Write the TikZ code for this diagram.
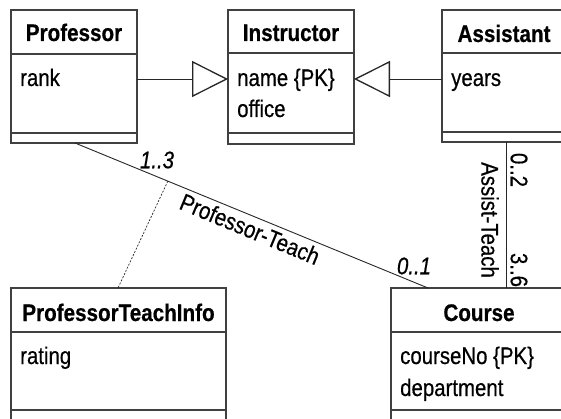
\documentclass[tikz,border=0pt]{standalone}
\usepackage{fontspec}
\setmainfont[FakeStretch=0.85, FakeBold=0.5, BoldFeatures={FakeStretch=0.86}, BoldItalicFeatures={FakeStretch=0.86}]{Liberation Sans}
\usetikzlibrary{arrows.meta,calc}

\begin{document}
\begin{tikzpicture}[x=1pt,y=-1pt,
  font=\fontsize{24}{31}\selectfont,
  umlbox/.style={draw=black!75, line width=1.4pt, inner sep=0pt, outer sep=0pt},
  divider/.style={draw=black!75, line width=1.4pt},
  head/.style={font=\fontsize{24}{31}\selectfont\bfseries, anchor=base, inner sep=0pt},
  attr/.style={anchor=base west, inner sep=0pt},
  link/.style={draw=black!85, line width=0.9pt},
  gen/.style={link, -{Triangle[open, length=36pt, width=36pt, line width=1.3pt]}},
  mult/.style={font=\fontsize{24}{31}\selectfont\itshape, inner sep=0pt},
  assoclabel/.style={inner sep=0pt}]

\useasboundingbox (0,0) rectangle (561,419);
\clip (0,0) rectangle (561,419);

% --- class boxes ---
\node[umlbox, minimum width=126pt, minimum height=133pt] (prof)  at (74,76.5) {};
\node[umlbox, minimum width=126pt, minimum height=134pt] (instr) at (291,77) {};
\node[umlbox, minimum width=124pt, minimum height=132pt] (asst)  at (504,76) {};
\node[umlbox, minimum width=215pt, minimum height=152pt] (pti)   at (118.5,364) {};
\node[umlbox, minimum width=176pt, minimum height=152pt] (course) at (479,364) {};

% compartment dividers
\draw[divider] (11,54) -- (137,54);   \draw[divider] (11,133) -- (137,133);
\draw[divider] (228,53) -- (354,53);  \draw[divider] (228,133) -- (354,133);
\draw[divider] (442,53) -- (566,53);  \draw[divider] (442,132) -- (566,132);
\draw[divider] (11,332) -- (226,332); \draw[divider] (11,410) -- (226,410);
\draw[divider] (391,332) -- (567,332);\draw[divider] (391,410) -- (567,410);

% class names
\node[head] at (74,41)    {Professor};
\node[head] at (291,41)   {Instructor};
\node[head] at (504,42)   {Assistant};
\node[head] at (118.5,321) {ProfessorTeachInfo};
\node[head] at (479,321)  {Course};

% attributes
\node[attr] at (20,86)   {rank};
\node[attr] at (237,86)  {name \{PK\}};
\node[attr] at (237,117) {office};
\node[attr] at (451,86)  {years};
\node[attr] at (20,364)  {rating};
\node[attr] at (400,364) {courseNo \{PK\}};
\node[attr] at (400,396) {department};

% generalisations
\coordinate (gy) at (0,79);
\draw[gen] (prof.east |- gy) -- (instr.west |- gy);
\draw[gen] (asst.west |- gy) -- (instr.east |- gy);

% Professor-Teach association with its association class
\draw[link] ($(prof.south west)+(64,0)$) -- coordinate[pos=0.263] (acmid) ($(course.north west)+(37,0)$);
\draw[draw=black!85, line width=0.7pt, dash pattern=on 2pt off 1.5pt] (acmid) -- ($(pti.north west)+(107,0)$);
\node[mult] at (157,160) {1..3};
\node[mult] at (414,266) {0..1};
\node[assoclabel, rotate=-22.5] at (250,229) {Professor-Teach};

% Assist-Teach association
\draw[link] ($(asst.south west)+(64,0)$) -- ($(course.north west)+(115,0)$);
\node[assoclabel, rotate=-90] at (519,170) {0..2};
\node[assoclabel, rotate=-90] at (519,270) {3..6};
\node[assoclabel, rotate=-90] at (490,220) {Assist-Teach};
\end{tikzpicture}
\end{document}
